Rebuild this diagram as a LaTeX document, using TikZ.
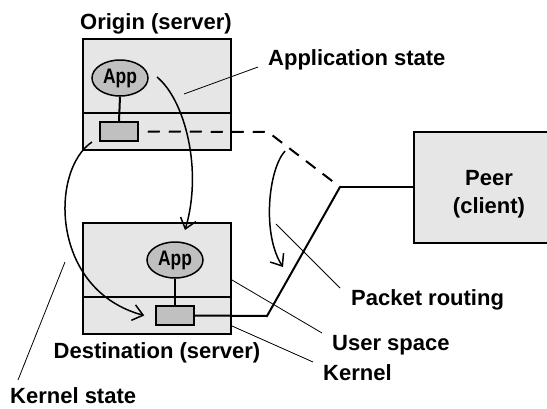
\documentclass[tikz,border=0pt]{standalone}
\usepackage{fontspec}
\setmainfont{Liberation Sans}
\usetikzlibrary{arrows.meta,shapes.geometric}
\definecolor{boxgray}{HTML}{E6E6E6}
\definecolor{appgray}{HTML}{C0C0C0}

\begin{document}
\begin{tikzpicture}[x=1pt,y=-1pt,
  every node/.style={inner sep=0pt},
  lbl/.style={font=\fontsize{22}{28}\selectfont\bfseries},
  hostbox/.style={draw,line width=2pt,fill=boxgray,minimum width=148pt,minimum height=111pt},
  app/.style={ellipse,draw,line width=1.5pt,fill=appgray,minimum width=56pt,minimum height=36pt,font=\fontsize{21}{21}\selectfont\bfseries},
  sock/.style={draw,line width=1.5pt,fill=appgray,minimum width=38pt,minimum height=19pt},
  wire/.style={line width=2pt},
  move/.style={line width=1.5pt,-{Straight Barb[length=10pt,width=16pt]}},
  pointer/.style={line width=0.8pt}]
\useasboundingbox (0,0) rectangle (547,408);

\node[hostbox] (origin) at (157,94.5) {};
\node[hostbox] (dest) at (157,278.5) {};
\node[draw,line width=2pt,fill=boxgray,minimum width=134pt,minimum height=111pt] (peer) at (481,187.5) {};
\draw[wire] (origin.west |- 0,113) -- (origin.east |- 0,113);
\draw[wire] (dest.west |- 0,297) -- (dest.east |- 0,297);

\node[app] (oapp) at (120,78) {\scalebox{0.83}[1]{App}};
\node[sock] (osock) at (119,131.5) {};
\node[app] (dapp) at (175,260) {\scalebox{0.83}[1]{App}};
\node[sock] (dsock) at (175,315.5) {};
\draw[wire] (oapp.south) -- (osock.north);
\draw[wire] (dapp.south) -- (dsock.north);

\node[lbl] (otitle) at (156,24) {Origin (server)};
\node[lbl] (dtitle) at (157,353) {Destination (server)};
\node[lbl,align=center] (ptext) at (489,194) {Peer\\(client)};

\coordinate (corner) at (268,132);
\coordinate (hub) at (340,187);
\coordinate (bend) at (267,316);
\draw[wire,dash pattern=on 12pt off 9pt,dash phase=12pt] (osock.east) -- (corner) -- (hub);
\draw[wire] (hub) -- (peer.west |- hub);
\draw[wire] (hub) -- (bend) -- (dsock.east);

\coordinate (appfrom) at (157,77);
\coordinate (appto) at (185,230);
\coordinate (kfrom) at (92,142);
\coordinate (rfrom) at (285,151);
\coordinate (rto) at (283,267);
\draw[move] (appfrom) .. controls (185,100) and (203,170) .. (appto);
\draw[move] (kfrom) .. controls (50,170) and (50,290) .. ([xshift=-11pt]dsock.west);
\draw[move] (rfrom) .. controls (268,170) and (262,235) .. (rto);

\node[lbl,anchor=west] (appstate) at (268,60) {Application state};
\node[lbl,anchor=west] (routing) at (351,300) {Packet routing};
\node[lbl,anchor=west] (userspace) at (332,345) {User space};
\node[lbl,anchor=west] (kernel) at (323,373) {Kernel};
\node[lbl,anchor=west] (kstate) at (10,396) {Kernel state};

\coordinate (pa) at (184,94);
\coordinate (pr) at (276,224);
\coordinate (pu) at (232,280);
\coordinate (pk) at (232,326);
\coordinate (ps) at (65,262);
\draw[pointer] (pa) -- ([shift={(-10,7)}]appstate.west);
\draw[pointer] (pr) -- ([shift={(-11,-12)}]routing.west);
\draw[pointer] (pu) -- ([shift={(-10,-12)}]userspace.west);
\draw[pointer] (pk) -- ([shift={(-10,-11)}]kernel.west);
\draw[pointer] (ps) -- ([shift={(8,-16)}]kstate.west);
\end{tikzpicture}
\end{document}
